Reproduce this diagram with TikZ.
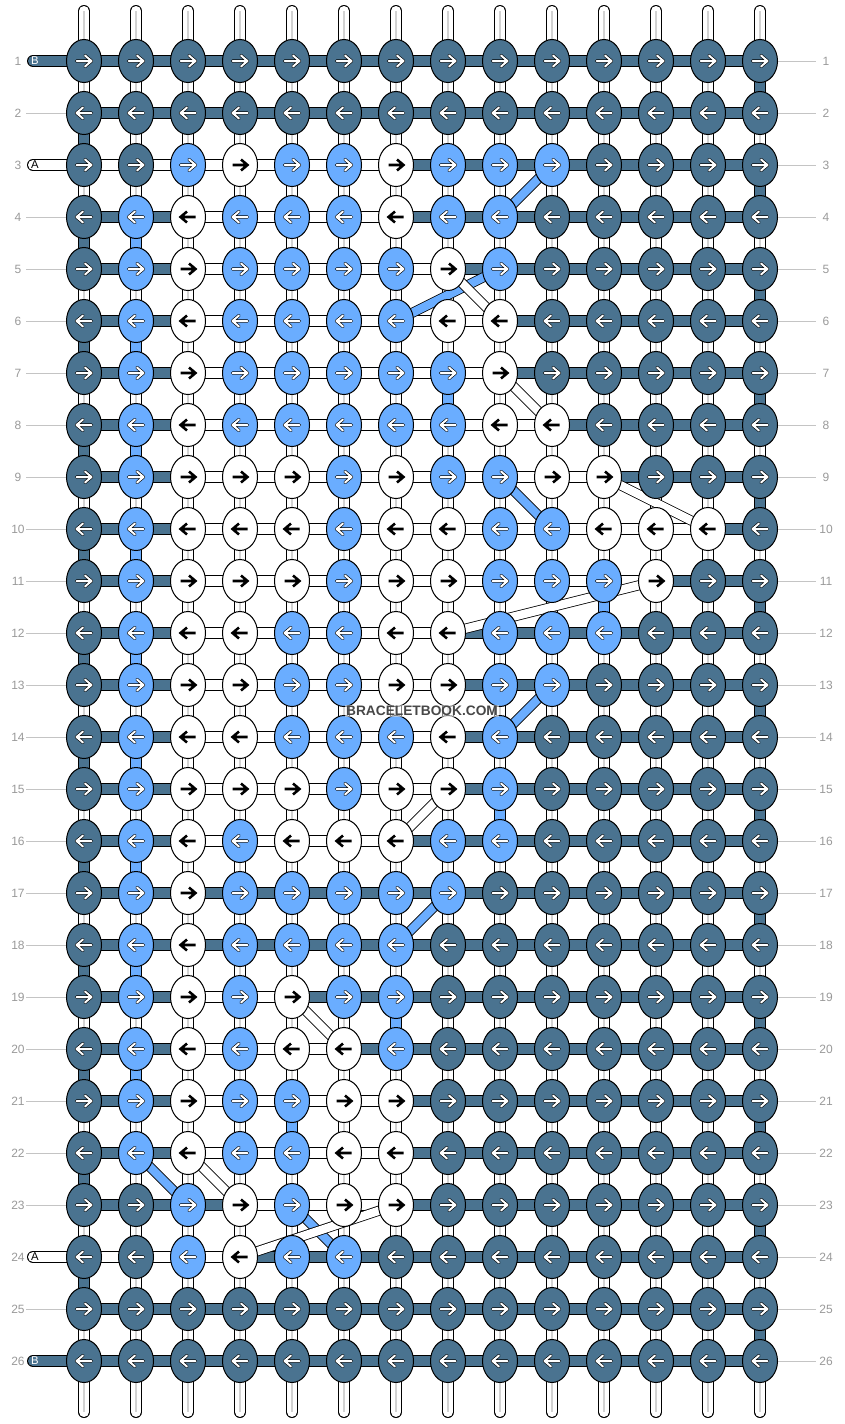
\documentclass[tikz,border=0pt]{standalone}
\usepackage{fontspec}
\setmainfont{Liberation Sans}
\usetikzlibrary{shapes.geometric}
\definecolor{kD}{HTML}{4A7390}
\definecolor{kL}{HTML}{6AADFF}
\definecolor{kW}{HTML}{FFFFFF}
\definecolor{kLab}{HTML}{9A9A9A}
\definecolor{kLabline}{HTML}{C4C4C4}
\definecolor{kMid}{HTML}{D2D2D2}
\pgfdeclarelayer{bglayer}
\pgfdeclarelayer{warplayer}
\pgfdeclarelayer{seglayer}
\pgfdeclarelayer{diaglayer}
\pgfdeclarelayer{toplayer}
\pgfsetlayers{bglayer,warplayer,seglayer,diaglayer,main,toplayer}
\begin{document}
\begin{tikzpicture}[x=0.75pt,y=-0.75pt,
  knot/.style={ellipse,draw=black,line width=0.75pt,minimum width=26.25pt,minimum height=32.25pt,inner sep=0pt},
  knotD/.style={knot,fill=kD},
  knotL/.style={knot,fill=kL},
  knotW/.style={knot,fill=kW},
  arrD/.style={draw=black,line width=0.45pt,double=white,double distance=1.5pt,line cap=round,line join=round},
  arrL/.style={arrD},
  arrW/.style={draw=black,line width=1.9pt,line join=miter},
  segD/.style={draw=black,line width=0.75pt,double=kD,double distance=7.5pt},
  segL/.style={draw=black,line width=0.75pt,double=kL,double distance=7.5pt},
  segW/.style={draw=black,line width=0.75pt,double=white,double distance=7.5pt},
  bandL/.style={draw=black,line width=0.6pt,double=kL,double distance=6.3pt},
  bandW/.style={draw=black,line width=0.6pt,double=white,double distance=6.3pt},
  warp/.style={draw=black,line width=0.75pt,double=white,double distance=7.5pt,line cap=round},
  warpmid/.style={draw=kMid,line width=1.6pt},
  labnum/.style={text=kLab,font=\fontsize{9}{10}\selectfont,inner sep=0pt},
  labline/.style={draw=kLabline,line width=0.75pt},
  endtxtD/.style={text=white,font=\fontsize{8.5}{9}\selectfont,inner sep=0pt},
  endtxtW/.style={text=black,font=\fontsize{8.5}{9}\selectfont,inner sep=0pt},
  wmark/.style={font=\bfseries\fontsize{10.3}{12}\selectfont,text=black!72,fill=white,fill opacity=0.5,text opacity=1,inner sep=1pt}
]
\useasboundingbox (0,0) rectangle (844,1424);
\begin{pgfonlayer}{bglayer}
\fill[white] (0,0) rectangle (844,1424);
\end{pgfonlayer}

% knots
\foreach \r/\cols in {
 1/{D,D,D,D,D,D,D,D,D,D,D,D,D,D},
 2/{D,D,D,D,D,D,D,D,D,D,D,D,D,D},
 3/{D,D,L,W,L,L,W,L,L,L,D,D,D,D},
 4/{D,L,W,L,L,L,W,L,L,D,D,D,D,D},
 5/{D,L,W,L,L,L,L,W,L,D,D,D,D,D},
 6/{D,L,W,L,L,L,L,W,W,D,D,D,D,D},
 7/{D,L,W,L,L,L,L,L,W,D,D,D,D,D},
 8/{D,L,W,L,L,L,L,L,W,W,D,D,D,D},
 9/{D,L,W,W,W,L,W,L,L,W,W,D,D,D},
 10/{D,L,W,W,W,L,W,W,L,L,W,W,W,D},
 11/{D,L,W,W,W,L,W,W,L,L,L,W,D,D},
 12/{D,L,W,W,L,L,W,W,L,L,L,D,D,D},
 13/{D,L,W,W,L,L,W,W,L,L,D,D,D,D},
 14/{D,L,W,W,L,L,L,W,L,D,D,D,D,D},
 15/{D,L,W,W,W,L,W,W,L,D,D,D,D,D},
 16/{D,L,W,L,W,W,W,L,L,D,D,D,D,D},
 17/{D,L,W,L,L,L,L,L,D,D,D,D,D,D},
 18/{D,L,W,L,L,L,L,D,D,D,D,D,D,D},
 19/{D,L,W,L,W,L,L,D,D,D,D,D,D,D},
 20/{D,L,W,L,W,W,L,D,D,D,D,D,D,D},
 21/{D,L,W,L,L,W,W,D,D,D,D,D,D,D},
 22/{D,L,W,L,L,W,W,D,D,D,D,D,D,D},
 23/{D,D,L,W,L,W,W,D,D,D,D,D,D,D},
 24/{D,D,L,W,L,L,D,D,D,D,D,D,D,D},
 25/{D,D,D,D,D,D,D,D,D,D,D,D,D,D},
 26/{D,D,D,D,D,D,D,D,D,D,D,D,D,D}} {
  \foreach \k [count=\cc] in \cols {
    \pgfmathsetmacro\xx{84+52*(\cc-1)}
    \pgfmathsetmacro\yy{61+52*(\r-1)}
    \pgfmathsetmacro\sg{ifthenelse(mod(\r,2)==1,1,-1)}
    \node[knot\k] (n-\r-\cc) at (\xx,\yy) {};
    \begin{scope}[shift={(\xx,\yy)},xscale=\sg]
      \draw[arr\k] (-7.5,0) -- (7.5,0) (1,-5.5) -- (7.5,0) -- (1,5.5);
    \end{scope}
  }
}

% vertical warp strings
\begin{pgfonlayer}{warplayer}
\foreach \cc in {1,...,14} {
  \pgfmathsetmacro\xx{84+52*(\cc-1)}
  \coordinate (t-\cc) at (\xx,11);
  \coordinate (b-\cc) at (\xx,1412);
  \draw[warp] (t-\cc) -- (b-\cc);
  \draw[warpmid] (t-\cc) -- (b-\cc);
}
\end{pgfonlayer}

% horizontal segments
\begin{pgfonlayer}{seglayer}
\foreach \r/\segs in {
 1/{D,D,D,D,D,D,D,D,D,D,D,D,D},
 2/{D,D,D,D,D,D,D,D,D,D,D,D,D},
 3/{W,W,W,W,W,W,D,D,D,D,D,D,D},
 4/{D,D,W,W,W,W,D,D,D,D,D,D,D},
 5/{D,D,W,W,W,W,W,D,D,D,D,D,D},
 6/{D,D,W,W,W,W,W,W,D,D,D,D,D},
 7/{D,D,W,W,W,W,W,W,D,D,D,D,D},
 8/{D,D,W,W,W,W,W,W,W,D,D,D,D},
 9/{D,D,W,W,W,W,W,W,W,W,D,D,D},
 10/{D,D,W,W,W,W,W,W,W,W,W,W,D},
 11/{D,D,W,W,W,W,W,W,W,W,W,D,D},
 12/{D,D,W,W,W,W,W,D,D,D,D,D,D},
 13/{D,D,W,W,W,W,W,D,D,D,D,D,D},
 14/{D,D,W,W,W,W,W,D,D,D,D,D,D},
 15/{D,D,W,W,W,W,W,D,D,D,D,D,D},
 16/{D,D,W,W,W,W,D,D,D,D,D,D,D},
 17/{D,D,D,D,D,D,D,D,D,D,D,D,D},
 18/{D,D,D,D,D,D,D,D,D,D,D,D,D},
 19/{D,D,W,W,D,D,D,D,D,D,D,D,D},
 20/{D,D,W,W,W,D,D,D,D,D,D,D,D},
 21/{D,D,W,W,W,W,D,D,D,D,D,D,D},
 22/{D,D,W,W,W,W,D,D,D,D,D,D,D},
 23/{D,D,D,W,W,W,D,D,D,D,D,D,D},
 24/{W,W,W,D,D,D,D,D,D,D,D,D,D},
 25/{D,D,D,D,D,D,D,D,D,D,D,D,D},
 26/{D,D,D,D,D,D,D,D,D,D,D,D,D}} {
  \foreach \k [count=\cc] in \segs {
    \pgfmathtruncatemacro\cn{\cc+1}
    \draw[seg\k] (n-\r-\cc.center) -- (n-\r-\cn.center);
  }
}
% vertical turns
\foreach \r in {2,4,...,24} {
  \pgfmathtruncatemacro\rn{\r+1}
  \draw[segD] (n-\r-1.center) -- (n-\rn-1.center);
}
\foreach \r in {1,3,...,25} {
  \pgfmathtruncatemacro\rn{\r+1}
  \draw[segD] (n-\r-14.center) -- (n-\rn-14.center);
}
\foreach \r in {4,6,...,20} {
  \pgfmathtruncatemacro\rn{\r+1}
  \draw[segL] (n-\r-2.center) -- (n-\rn-2.center);
}
\foreach \r/\cc in {7/8,11/11,15/9,19/7,21/5} {
  \pgfmathtruncatemacro\rn{\r+1}
  \draw[segL] (n-\r-\cc.center) -- (n-\rn-\cc.center);
}
% string ends on the left
\foreach \r/\k in {1/D,3/W,24/W,26/D} {
  \pgfmathsetmacro\yy{61+52*(\r-1)}
  \coordinate (e-\r) at (33,\yy);
  \draw[seg\k,line cap=round] (e-\r) -- (n-\r-1.center);
}
\end{pgfonlayer}

% diagonal strands
\begin{pgfonlayer}{diaglayer}
\foreach \k/\ra/\ca/\rb/\cb in {L/3/10/4/9, L/5/9/6/7, L/9/9/10/10, L/13/10/14/9, L/17/8/18/7, L/22/2/23/3, L/23/5/24/6,
  W/5/8/6/9, W/7/9/8/10, W/9/11/10/13, W/11/12/12/8, W/15/8/16/7, W/19/5/20/6, W/22/3/23/4, W/23/7/24/4} {
  \draw[band\k] (n-\ra-\ca.center) -- (n-\rb-\cb.center);
}
\end{pgfonlayer}

% end labels
\foreach \r/\k/\t in {1/D/B,3/W/A,24/W/A,26/D/B} {
  \pgfmathsetmacro\yy{61+52*(\r-1)}
  \node[endtxt\k] (et-\r) at (35,\yy) {\t};
}

% row numbers and guide lines
\foreach \r in {1,...,26} {
  \pgfmathsetmacro\yy{61+52*(\r-1)}
  \node[labnum] (ln-\r) at (18,\yy) {\r};
  \node[labnum] (rn-\r) at (826,\yy) {\r};
  \coordinate (rl-\r) at (816,\yy);
  \draw[labline] (n-\r-14.east) -- (rl-\r);
}
\foreach \r in {2,4,5,6,7,8,9,10,11,12,13,14,15,16,17,18,19,20,21,22,23,25} {
  \pgfmathsetmacro\yy{61+52*(\r-1)}
  \coordinate (ll-\r) at (26,\yy);
  \draw[labline] (ll-\r) -- (n-\r-1.west);
}

\begin{pgfonlayer}{toplayer}
\node[wmark] (wm) at (422,711) {BRACELETBOOK.COM};
\end{pgfonlayer}
\end{tikzpicture}
\end{document}
